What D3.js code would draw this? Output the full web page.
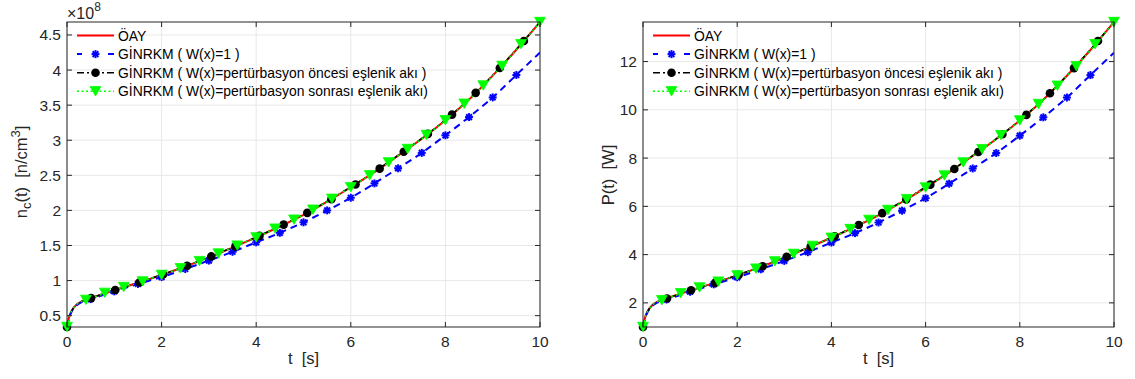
<!DOCTYPE html>
<html>
<head>
<meta charset="utf-8">
<script src="https://cdn.jsdelivr.net/npm/d3@7"></script>
<style>
  body { margin: 0; background: #fff; }
  svg { display: block; font-family: "Liberation Sans", Arial, sans-serif; }
  text { white-space: pre; }
</style>
</head>
<body>
<svg id="chart" width="1135" height="379"></svg>
<script>
// time grid of the lines (s)
const tGrid = [0, 0.05, 0.1, 0.2, 0.3, 0.4, 0.5, 1, 1.5, 2, 2.5, 3, 3.5, 4, 4.5, 5, 5.5, 6, 6.5, 7, 7.5, 8, 8.5, 9, 9.5, 10];

// n_c(t), x1e8 n/cm^3
const ncOay   = [0.338, 0.49, 0.57, 0.655, 0.70, 0.725, 0.748, 0.862, 0.968, 1.08, 1.2, 1.33, 1.47, 1.615, 1.77, 1.935, 2.125, 2.33, 2.545, 2.78, 3.02, 3.285, 3.58, 3.92, 4.29, 4.685];
const ncW1    = [0.338, 0.48, 0.56, 0.645, 0.69, 0.715, 0.735, 0.846, 0.952, 1.05, 1.165, 1.285, 1.41, 1.545, 1.68, 1.83, 2.0, 2.18, 2.385, 2.6, 2.82, 3.07, 3.33, 3.61, 3.93, 4.25];
const ncOnce  = [0.338, 0.49, 0.57, 0.655, 0.70, 0.726, 0.75, 0.864, 0.97, 1.082, 1.203, 1.334, 1.474, 1.62, 1.776, 1.94, 2.13, 2.335, 2.55, 2.785, 3.025, 3.29, 3.585, 3.925, 4.295, 4.685];
const ncSonra = [0.338, 0.49, 0.57, 0.655, 0.70, 0.725, 0.748, 0.862, 0.968, 1.08, 1.2, 1.33, 1.47, 1.615, 1.77, 1.935, 2.125, 2.33, 2.545, 2.78, 3.02, 3.285, 3.58, 3.92, 4.29, 4.685];

// P(t), W
const pOay   = [1.0, 1.43, 1.66, 1.91, 2.04, 2.11, 2.18, 2.51, 2.82, 3.14, 3.49, 3.87, 4.28, 4.70, 5.15, 5.63, 6.18, 6.78, 7.41, 8.09, 8.79, 9.56, 10.42, 11.41, 12.48, 13.64];
const pW1    = [1.0, 1.40, 1.63, 1.88, 2.01, 2.08, 2.14, 2.46, 2.77, 3.06, 3.39, 3.74, 4.10, 4.50, 4.89, 5.33, 5.82, 6.34, 6.94, 7.57, 8.21, 8.93, 9.69, 10.51, 11.44, 12.37];
const pOnce  = [1.0, 1.43, 1.66, 1.91, 2.04, 2.11, 2.18, 2.51, 2.82, 3.15, 3.50, 3.88, 4.29, 4.71, 5.17, 5.65, 6.20, 6.80, 7.42, 8.10, 8.80, 9.57, 10.43, 11.42, 12.50, 13.64];
const pSonra = [1.0, 1.43, 1.66, 1.91, 2.04, 2.11, 2.18, 2.51, 2.82, 3.14, 3.49, 3.87, 4.28, 4.70, 5.15, 5.63, 6.18, 6.78, 7.41, 8.09, 8.79, 9.56, 10.42, 11.41, 12.48, 13.64];

// marker positions of the two adjoint-weighted series
const tMarkOnce  = [0, 0.51, 1.02, 1.53, 2.03, 2.54, 3.05, 3.56, 4.07, 4.58, 5.08, 5.59, 6.10, 6.61, 7.12, 7.63, 8.14, 8.64, 9.15, 9.66];
const ncMarkOnce = [0.338, 0.75, 0.865, 0.973, 1.087, 1.21, 1.344, 1.487, 1.637, 1.797, 1.965, 2.16, 2.37, 2.595, 2.835, 3.09, 3.365, 3.675, 4.03, 4.415];
const pMarkOnce  = [1.0, 2.18, 2.52, 2.83, 3.16, 3.52, 3.91, 4.33, 4.76, 5.23, 5.72, 6.29, 6.90, 7.55, 8.25, 8.99, 9.79, 10.69, 11.73, 12.85];

const tMarkSonra  = [0, 0.4, 0.8, 1.2, 1.6, 2.0, 2.4, 2.8, 3.2, 3.6, 4.0, 4.4, 4.8, 5.2, 5.6, 6.0, 6.4, 6.8, 7.2, 7.6, 8.0, 8.4, 8.8, 9.2, 9.6, 10.0];
const ncMarkSonra = [0.338, 0.725, 0.825, 0.908, 0.988, 1.08, 1.175, 1.277, 1.385, 1.498, 1.615, 1.74, 1.868, 2.01, 2.165, 2.33, 2.5, 2.685, 2.875, 3.075, 3.285, 3.52, 3.78, 4.06, 4.37, 4.685];
const pMarkSonra  = [1.0, 2.11, 2.40, 2.64, 2.88, 3.14, 3.42, 3.72, 4.03, 4.36, 4.70, 5.06, 5.44, 5.85, 6.30, 6.78, 7.28, 7.82, 8.37, 8.95, 9.56, 10.24, 11.0, 11.81, 12.72, 13.64];

const legendLabels = ["ÖAY", "GİNRKM ( W(x)=1 )", "GİNRKM ( W(x)=pertürbasyon öncesi eşlenik akı )", "GİNRKM ( W(x)=pertürbasyon sonrası eşlenik akı)"];
const xTicks = [0, 2, 4, 6, 8, 10];
const ncTicks = [0.5, 1, 1.5, 2, 2.5, 3, 3.5, 4, 4.5];
const pTicks = [2, 4, 6, 8, 10, 12];

const ink = "#262626";
const svg = d3.select("#chart");

const styles = [
	{color: "#ff0000", width: 2, dash: null, legDash: null},
	{color: "#0000ff", width: 2, dash: "7,5", legDash: "5,26,6"},
	{color: "#000000", width: 1.5, dash: "7,3,2,3", legDash: "7,3,2,3"},
	{color: "#00ff00", width: 1.5, dash: "2,3", legDash: "2,2.5"}
];

function drawPanel(cfg) {
	const x = d3.scaleLinear().domain([0, 10]).range([cfg.left, cfg.right]);
	const y = d3.scaleLinear().domain(cfg.yDomain).range([cfg.bottom, cfg.top]);
	const g = svg.append("g");
	const clipId = "clip" + cfg.id;

	g.append("clipPath").attr("id", clipId).append("rect")
		.attr("x", cfg.left).attr("y", cfg.top)
		.attr("width", cfg.right - cfg.left).attr("height", cfg.bottom - cfg.top);

	// grid
	g.append("g").selectAll("line").data(xTicks).join("line")
		.attr("x1", d => x(d)).attr("x2", d => x(d))
		.attr("y1", cfg.top).attr("y2", cfg.bottom)
		.attr("stroke", "#e8e8e8").attr("stroke-width", 1);
	g.append("g").selectAll("line").data(cfg.yTicks).join("line")
		.attr("x1", cfg.left).attr("x2", cfg.right)
		.attr("y1", d => y(d)).attr("y2", d => y(d))
		.attr("stroke", "#e8e8e8").attr("stroke-width", 1);

	const line = (vals) => d3.line()
		.x((d, i) => x(tGrid[i]))
		.y(d => y(d))
		.curve(d3.curveMonotoneX)(vals);

	const plot = g.append("g").attr("clip-path", `url(#${clipId})`);
	cfg.series.forEach((vals, k) => {
		plot.append("path")
			.attr("d", line(vals))
			.attr("fill", "none")
			.attr("stroke", styles[k].color)
			.attr("stroke-width", styles[k].width)
			.attr("stroke-dasharray", styles[k].dash);
	});

	// markers
	const blueIdx = tGrid.map((t, i) => i).filter(i => Number.isInteger(tGrid[i] * 2) && tGrid[i] < 10);
	const mk = g.append("g");
	blueIdx.forEach(i => drawStar(mk, x(tGrid[i]), y(cfg.series[1][i])));
	tMarkOnce.forEach((t, i) => drawDot(mk, x(t), y(cfg.markOnce[i])));
	tMarkSonra.forEach((t, i) => drawTri(mk, x(t), y(cfg.markSonra[i])));

	// axes box with inward ticks
	const ax = g.append("g").attr("stroke", ink).attr("stroke-width", 1).attr("fill", "none");
	ax.append("rect").attr("x", cfg.left).attr("y", cfg.top)
		.attr("width", cfg.right - cfg.left).attr("height", cfg.bottom - cfg.top);
	xTicks.forEach(d => {
		ax.append("line").attr("x1", x(d)).attr("x2", x(d)).attr("y1", cfg.bottom).attr("y2", cfg.bottom - 5);
		ax.append("line").attr("x1", x(d)).attr("x2", x(d)).attr("y1", cfg.top).attr("y2", cfg.top + 5);
	});
	cfg.yTicks.forEach(d => {
		ax.append("line").attr("x1", cfg.left).attr("x2", cfg.left + 5).attr("y1", y(d)).attr("y2", y(d));
		ax.append("line").attr("x1", cfg.right).attr("x2", cfg.right - 5).attr("y1", y(d)).attr("y2", y(d));
	});

	// tick labels
	g.append("g").selectAll("text").data(xTicks).join("text")
		.attr("x", d => x(d)).attr("y", cfg.bottom + 20)
		.attr("text-anchor", "middle").attr("font-size", 15.5).attr("fill", ink)
		.text(d => d);
	g.append("g").selectAll("text").data(cfg.yTicks).join("text")
		.attr("x", cfg.left - 6).attr("y", d => y(d) + 5.5)
		.attr("text-anchor", "end").attr("font-size", 15.5).attr("fill", ink)
		.text(d => d3.format("~g")(d));

	// axis labels
	g.append("text")
		.attr("x", (cfg.left + cfg.right) / 2).attr("y", cfg.bottom + 37)
		.attr("text-anchor", "middle").attr("font-size", 16.5).attr("fill", ink)
		.text("t  [s]");
	const yl = g.append("text")
		.attr("transform", `translate(${cfg.yLabelX},${cfg.yLabelY}) rotate(-90)`)
		.attr("font-size", 16.5).attr("fill", ink);
	cfg.yLabel.forEach(p => {
		yl.append("tspan").attr("font-size", p.small ? 13 : 16.5)
			.attr("dy", p.dy || 0).text(p.s);
	});
	const bb = yl.node().getBBox();
	yl.attr("x", -bb.width / 2);

	// legend
	const lg = g.append("g");
	legendLabels.forEach((lab, k) => {
		const ly = cfg.top + 13.5 + k * 18.6;
		const lx0 = cfg.left + 10, lx1 = cfg.left + 47, lxm = (lx0 + lx1) / 2;
		lg.append("line").attr("x1", lx0).attr("x2", lx1).attr("y1", ly).attr("y2", ly)
			.attr("stroke", styles[k].color).attr("stroke-width", styles[k].width)
			.attr("stroke-dasharray", styles[k].legDash);
		if (k === 1) drawStar(lg, lxm, ly);
		if (k === 2) drawDot(lg, lxm, ly);
		if (k === 3) drawTri(lg, lxm, ly);
		lg.append("text").attr("x", cfg.left + 51).attr("y", ly + 5)
			.attr("font-size", 13.9).attr("fill", "#000").text(lab);
	});
}

function drawStar(sel, cx, cy) {
	const r = 4;
	const gs = sel.append("g").attr("stroke", "#0000ff").attr("stroke-width", 2);
	[[r, 0], [0, r], [r * 0.72, r * 0.72], [r * 0.72, -r * 0.72]].forEach(([dx, dy]) => {
		gs.append("line").attr("x1", cx - dx).attr("y1", cy - dy).attr("x2", cx + dx).attr("y2", cy + dy);
	});
}
function drawDot(sel, cx, cy) {
	sel.append("circle").attr("cx", cx).attr("cy", cy).attr("r", 4.3).attr("fill", "#000");
}
function drawTri(sel, cx, cy) {
	const w = 5.4, h = 4.7;
	sel.append("path")
		.attr("d", `M${cx - w},${cy - h}L${cx + w},${cy - h}L${cx},${cy + h}Z`)
		.attr("fill", "#00ff00").attr("stroke", "#00ff00").attr("stroke-width", 0.8);
}

drawPanel({
	id: "a", left: 67, right: 540, top: 22, bottom: 327,
	yDomain: [0.338, 4.685], yTicks: ncTicks,
	series: [ncOay, ncW1, ncOnce, ncSonra],
	markOnce: ncMarkOnce, markSonra: ncMarkSonra,
	yLabelX: 27, yLabelY: 172,
	yLabel: [{s: "n"}, {s: "c", small: true, dy: 4}, {s: "(t)  [n/cm", dy: -4}, {s: "3", small: true, dy: -7}, {s: "]", dy: 7}]
});
drawPanel({
	id: "b", left: 643, right: 1114, top: 22, bottom: 327,
	yDomain: [1.0, 13.64], yTicks: pTicks,
	series: [pOay, pW1, pOnce, pSonra],
	markOnce: pMarkOnce, markSonra: pMarkSonra,
	yLabelX: 614, yLabelY: 175,
	yLabel: [{s: "P(t)  [W]"}]
});

// exponent of the left y axis
const ex = svg.append("text").attr("x", 67).attr("y", 18.5).attr("fill", ink).attr("font-size", 16);
ex.append("tspan").text("×10");
ex.append("tspan").attr("font-size", 12).attr("dy", -8).text("8");
</script>
</body>
</html>
